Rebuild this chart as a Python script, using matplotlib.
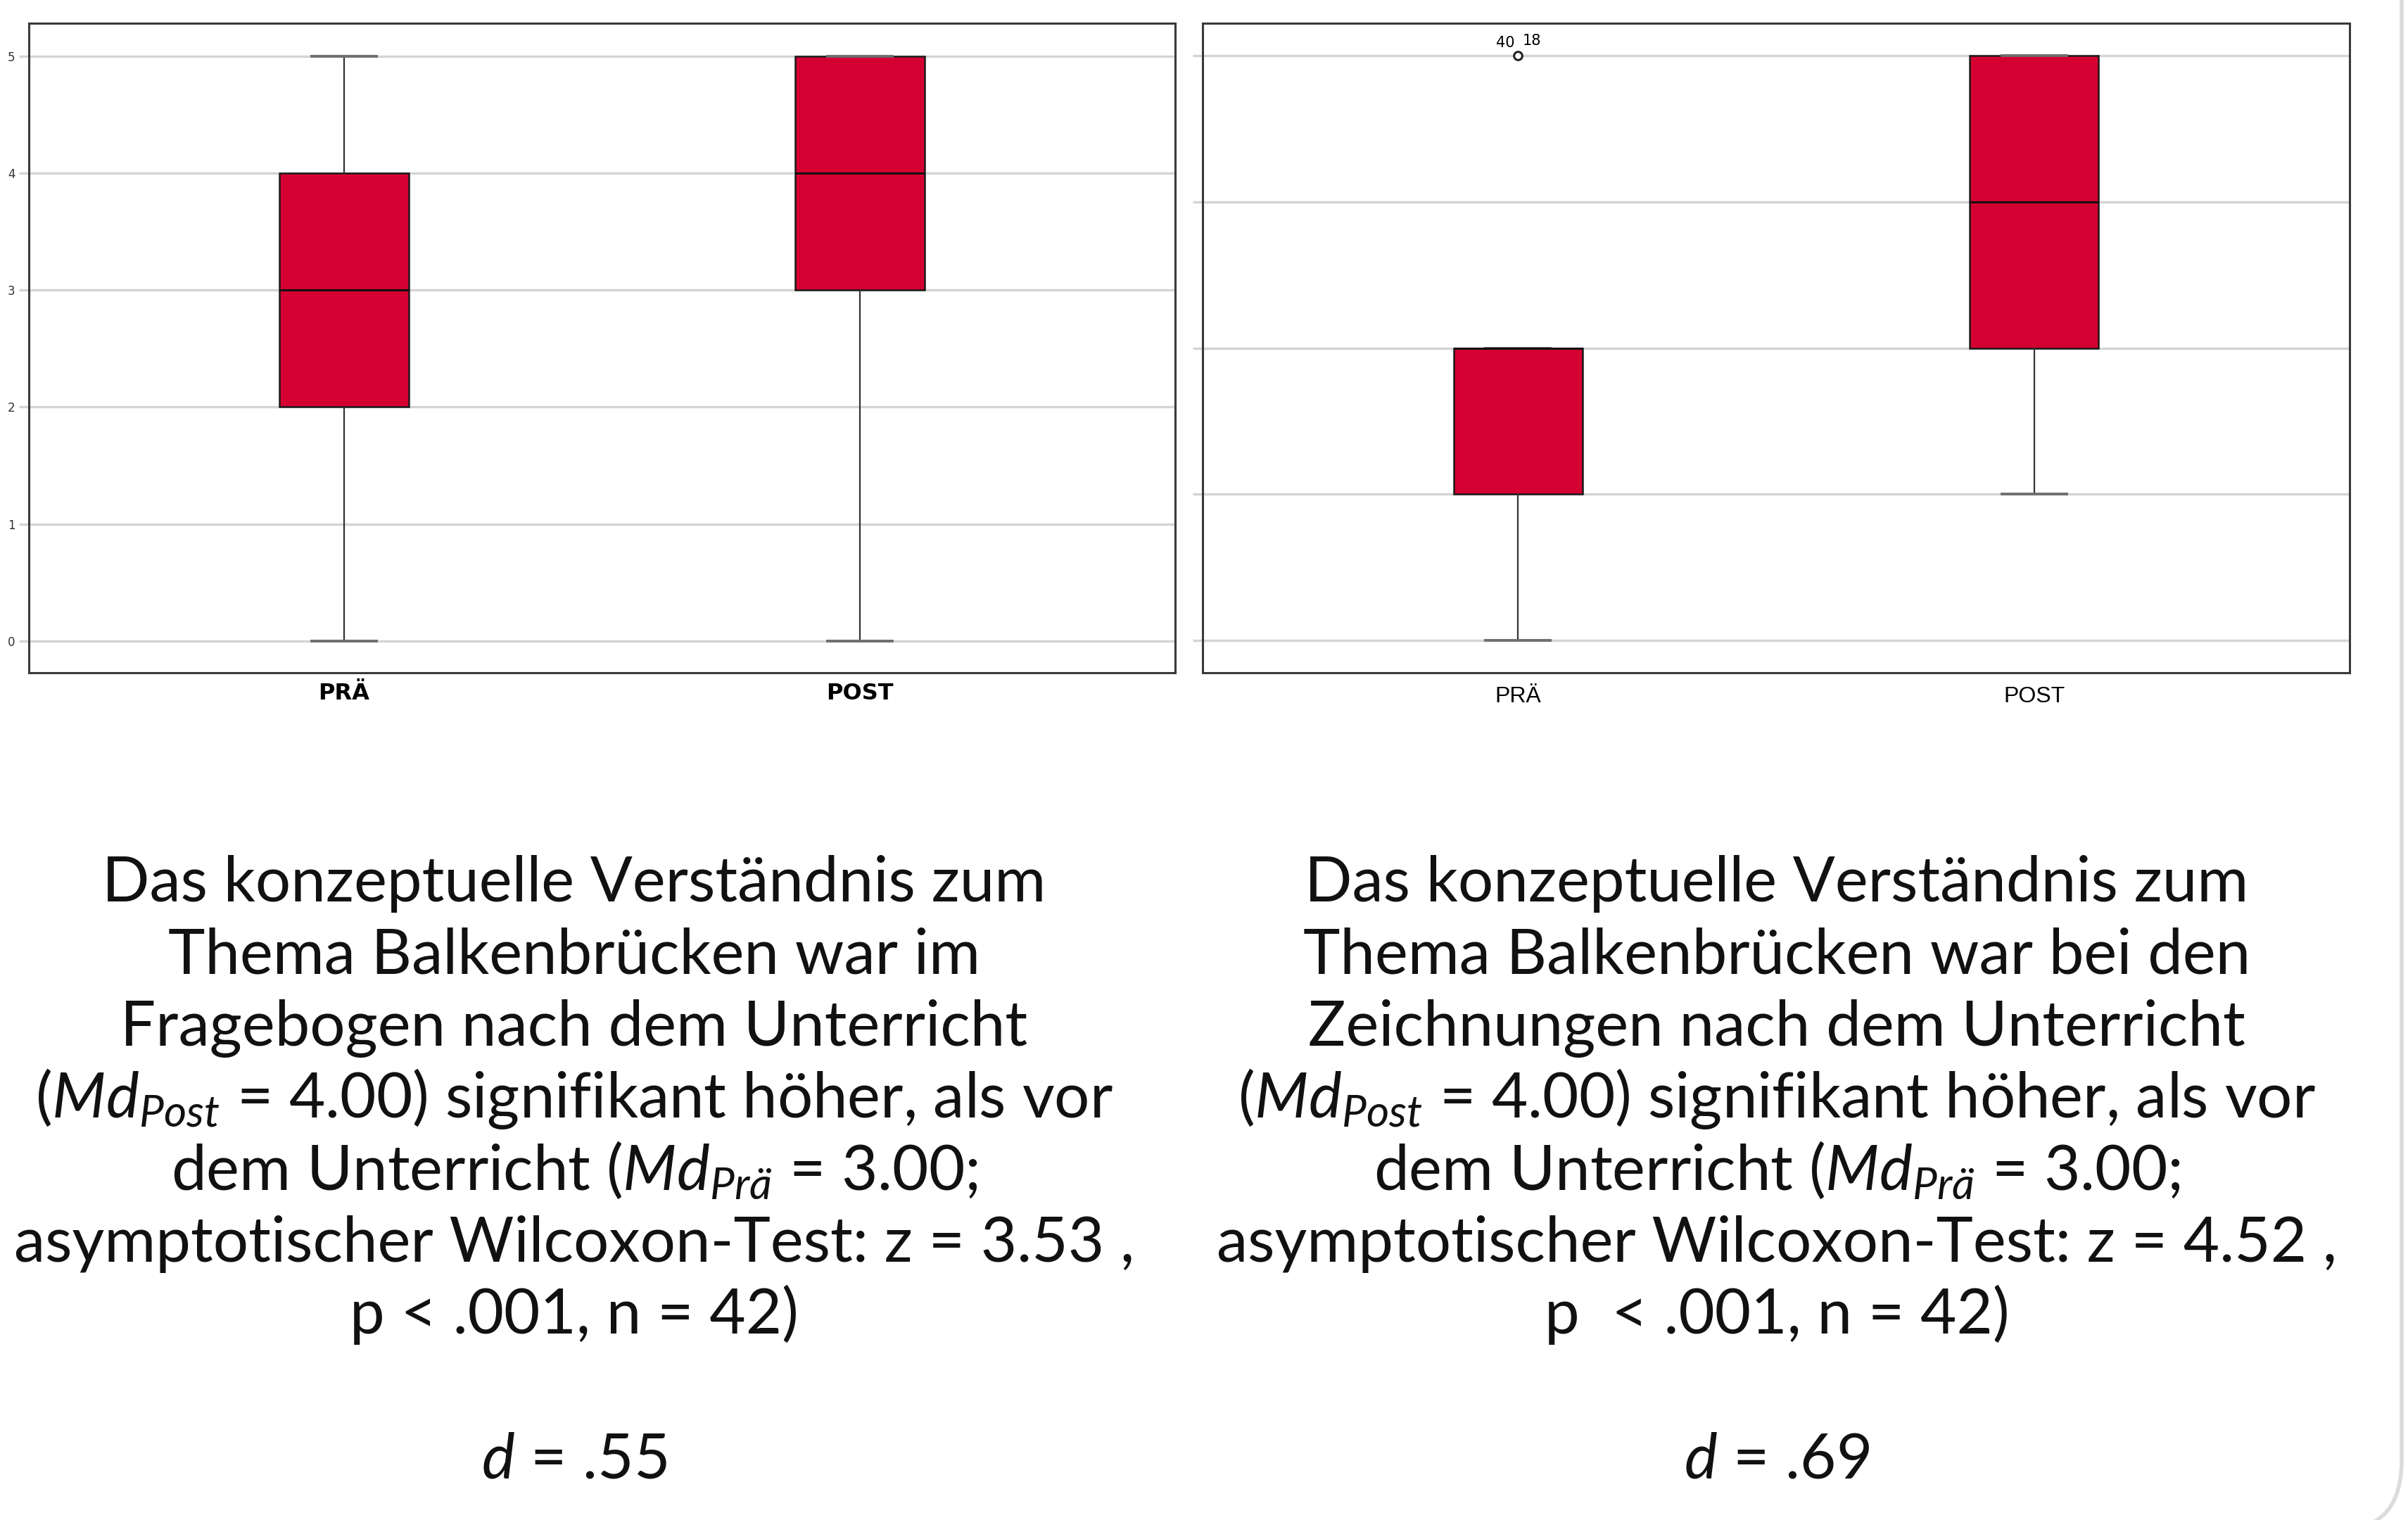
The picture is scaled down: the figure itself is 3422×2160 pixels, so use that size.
import matplotlib
matplotlib.use("Agg")
import matplotlib.pyplot as plt
from matplotlib.path import Path
from matplotlib.patches import PathPatch

# ---------------- data ----------------
groups = ["PRÄ", "POST"]

# left panel (Fragebogen)
left_whislo = [0, 0]
left_q1 = [2, 3]
left_med = [3, 4]
left_q3 = [4, 5]
left_whishi = [5, 5]
left_yticks = [0, 1, 2, 3, 4, 5]

# right panel (Zeichnungen)
right_whislo = [1, 2]
right_q1 = [2, 3]
right_med = [3, 4]
right_q3 = [3, 5]
right_whishi = [3, 5]
right_fliers = [[5], []]
right_flier_ids = ["40", "18"]
right_yticks = [1, 2, 3, 4, 5]

left_lines = [
    "Das konzeptuelle Verständnis zum",
    "Thema Balkenbrücken war im",
    "Fragebogen nach dem Unterricht",
    r"($\mathit{Md}_{\mathit{Post}}$ = 4.00) signifikant höher, als vor",
    r"dem Unterricht ($\mathit{Md}_{\mathit{Prä}}$ = 3.00;",
    "asymptotischer Wilcoxon-Test: z = 3.53 ,",
    "p < .001, n = 42)",
    "",
    r"$\mathit{d}$ = .55",
]
right_lines = [
    "Das konzeptuelle Verständnis zum",
    "Thema Balkenbrücken war bei den",
    "Zeichnungen nach dem Unterricht",
    r"($\mathit{Md}_{\mathit{Post}}$ = 4.00) signifikant höher, als vor",
    r"dem Unterricht ($\mathit{Md}_{\mathit{Prä}}$ = 3.00;",
    "asymptotischer Wilcoxon-Test: z = 4.52 ,",
    "p  < .001, n = 42)",
    "",
    r"$\mathit{d}$ = .69",
]

# ---------------- style ----------------
W, H, DPI = 3422, 2160, 200
BODY_FONT = "Lato"
plt.rcParams["mathtext.fontset"] = "custom"
plt.rcParams["mathtext.rm"] = BODY_FONT
plt.rcParams["mathtext.it"] = BODY_FONT + ":italic"
plt.rcParams["mathtext.bf"] = BODY_FONT + ":bold"

BOX_COLOR = "#D50032"
GRID_COLOR = "#D4D4D4"

fig = plt.figure(figsize=(W / DPI, H / DPI), dpi=DPI)
fig.patch.set_facecolor("white")


def px_rect(x0, y0, x1, y1):
    return [x0 / W, 1 - y1 / H, (x1 - x0) / W, (y1 - y0) / H]


def make_stats(whislo, q1, med, q3, whishi, fliers=None):
    stats = []
    for i in range(len(med)):
        stats.append(dict(whislo=whislo[i], q1=q1[i], med=med[i], q3=q3[i],
                          whishi=whishi[i],
                          fliers=(fliers[i] if fliers else [])))
    return stats


def draw_panel(ax, stats, yticks, ylim):
    for y in yticks:
        ax.axhline(y, color=GRID_COLOR, lw=1.2, zorder=0)
    ax.bxp(stats, positions=[1, 2], widths=0.25, patch_artist=True,
           showfliers=True,
           boxprops=dict(facecolor=BOX_COLOR, edgecolor="#1a1a1a", lw=0.9),
           medianprops=dict(color="#111111", lw=1.1),
           whiskerprops=dict(color="#333333", lw=0.8),
           capprops=dict(color="#6e6e6e", lw=1.4),
           capwidths=0.125,
           flierprops=dict(marker="o", markerfacecolor="white",
                           markeredgecolor="#222222", markersize=4.2,
                           markeredgewidth=1.1),
           zorder=3)
    ax.set_xlim(0.389, 2.611)
    ax.set_ylim(*ylim)
    for s in ax.spines.values():
        s.set_color("#3a3a3a")
        s.set_linewidth(1.1)
    ax.set_yticks(yticks)
    ax.tick_params(axis="y", length=5, width=1.2, color=GRID_COLOR, pad=2)
    ax.tick_params(axis="x", length=0)
    ax.set_xticks([1, 2])


# left panel
axL = fig.add_axes(px_rect(41, 33, 1670, 956))
draw_panel(axL, make_stats(left_whislo, left_q1, left_med, left_q3, left_whishi),
           left_yticks, (-0.27, 5.28))
axL.set_yticklabels([str(v) for v in left_yticks], fontsize=6,
                    family="DejaVu Sans", color="#333333")
axL.set_xticklabels(groups, fontsize=11.5, fontweight="bold",
                    family="DejaVu Sans")
axL.tick_params(axis="x", pad=5)

# right panel
axR = fig.add_axes(px_rect(1709, 33, 3339, 956))
draw_panel(axR, make_stats(right_whislo, right_q1, right_med, right_q3,
                           right_whishi, right_fliers),
           right_yticks, (0.78, 5.22))
axR.set_yticklabels([])
axR.set_xticklabels(groups, fontsize=11.5, family="Liberation Sans")
axR.tick_params(axis="x", pad=7)
fx = right_fliers[0][0]
axR.annotate(right_flier_ids[0], (1, fx), xytext=(-6.5, 6.5),
             textcoords="offset points", ha="center", va="center",
             fontsize=7.5, family="Liberation Sans Narrow")
axR.annotate(right_flier_ids[1], (1, fx), xytext=(7, 7.5),
             textcoords="offset points", ha="center", va="center",
             fontsize=7.5, family="Liberation Sans Narrow")

# ---------------- text blocks ----------------
base_size = 30
baseline0 = 1281
line_step = 102.4
texts = []
for cx, lines in ((816, left_lines), (2525, right_lines)):
    for i, ln in enumerate(lines):
        if not ln:
            continue
        t = fig.text(cx / W, 1 - (baseline0 + i * line_step) / H, ln,
                     ha="center", va="baseline", fontsize=base_size,
                     family=BODY_FONT, color="#111111")
        texts.append((t, ln))

# fit font size so the widest line has about the reference width
fig.canvas.draw()
r = fig.canvas.get_renderer()
ref = [t for t, ln in texts if ln.startswith("asymptotischer")][0]
w = ref.get_window_extent(r).width
scale = 1595.0 / w
for t, _ in texts:
    t.set_fontsize(base_size * scale)

# decorative slide border at the right edge
verts = [(3413 / W, 1.0), (3413 / W, 1 - 2075 / H),
         (3413 / W, 1 - 2140 / H), (3375 / W, 1 - 2162 / H)]
codes = [Path.MOVETO, Path.LINETO, Path.CURVE3, Path.CURVE3]
fig.patches.append(PathPatch(Path(verts, codes), transform=fig.transFigure,
                             fill=False, edgecolor="#DCDCDC", lw=2.0))

fig.savefig("out.png", dpi=DPI, facecolor="white")
